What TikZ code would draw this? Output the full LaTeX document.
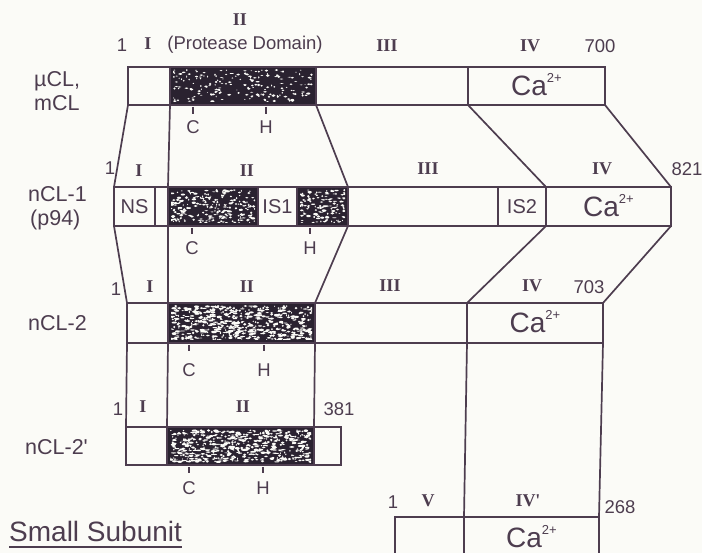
\documentclass[tikz,border=0pt]{standalone}
\usepackage{fontspec}
\setmainfont{Liberation Serif}
\setsansfont{Liberation Sans}
\newfontfamily\sansplain{Liberation Sans}
\newfontfamily\serifplain{Liberation Serif}
\definecolor{ink}{HTML}{4D3D4F}
\definecolor{dark}{HTML}{2A2230}
\definecolor{paper}{HTML}{FBFBF7}
\newcommand{\speckle}[7]{%
\begin{scope}
\clip (#1,#2) rectangle (#3,#4);
\pgfmathsetseed{#6}
\foreach \i in {1,...,#5}{
 \pgfmathsetmacro{\sx}{#1+rnd*(#3-#1)}
 \pgfmathsetmacro{\sy}{#2+rnd*(#4-#2)}
 \pgfmathsetmacro{\sa}{0.5+rnd*#7}
 \pgfmathsetmacro{\sb}{0.4+rnd*0.9}
 \fill[speck] (\sx,\sy) ellipse[x radius=\sa pt, y radius=\sb pt];
}
\end{scope}}
\newcommand{\caion}{Ca\smash{\raisebox{13pt}{\fontsize{13}{13}\selectfont 2+}}}
\begin{document}
\begin{tikzpicture}[x=1pt,y=-1pt,
 seg/.style={draw=ink, line width=1.9pt, inner sep=0pt, outer sep=0pt, anchor=north west, text=ink, font=\sffamily\fontsize{20}{20}\selectfont},
 dk/.style={seg, fill=dark},
 conn/.style={draw=ink, line width=1.7pt},
 tick/.style={draw=ink, line width=1.3pt},
 rn/.style={text=ink, inner sep=0pt, font=\bfseries\fontsize{18}{18}\selectfont},
 num/.style={text=ink, inner sep=0pt, font=\sffamily\fontsize{18.5}{18.5}\selectfont},
 lab/.style={text=ink, inner sep=0pt, anchor=west, font=\sffamily\fontsize{21.5}{22}\selectfont},
 ca/.style={font=\sffamily\fontsize{28}{28}\selectfont},
 speck/.style={fill=paper}
]
\fill[paper] (0,0) rectangle (702,553);
\useasboundingbox (0,0) rectangle (702,553);
\clip (0,0) rectangle (702,553);

% ---------- row 1: muCL, mCL ----------
\node[lab] (l1a) at (34,81) {µCL,};
\node[lab] (l1b) at (34,103) {mCL};
\node[seg, minimum width=42pt, minimum height=38pt] (r1a) at (128,67) {};
\node[dk, minimum width=146pt, minimum height=38pt] (r1b) at (170,67) {};
\node[seg, minimum width=152pt, minimum height=38pt] (r1c) at (316,67) {};
\node[seg, ca, minimum width=137pt, minimum height=38pt] (r1d) at (468,67) {\caion};
\speckle{173}{70}{313}{102}{200}{11}{1.6}
\node[rn] (n1II) at (240,20) {II};
\node[num] (n1one) at (122,45) {1};
\node[rn] (n1I) at (148,44) {I};
\node[num] (n1pd) at (245,45) {(Protease Domain)};
\node[rn] (n1III) at (387,46) {III};
\node[rn] (n1IV) at (530,46) {IV};
\node[num] (n1end) at (600,46) {700};
\node[num] (c1) at (193,127) {C};
\node[num] (h1) at (266,127) {H};
\draw[tick] (c1.north |- r1b.south) ++(0,2) -- ++(0,7);
\draw[tick] (h1.north |- r1b.south) ++(0,2) -- ++(0,7);

% ---------- row 2: nCL-1 ----------
\node[lab] (l2a) at (28,194) {nCL-1};
\node[lab] (l2b) at (30,220) {(p94)};
\node[seg, minimum width=41pt, minimum height=39pt] (r2ns) at (114,187) {NS};
\node[seg, minimum width=13pt, minimum height=39pt] (r2g) at (155,187) {};
\node[dk, minimum width=90pt, minimum height=39pt] (r2b) at (168,187) {};
\node[seg, minimum width=39pt, minimum height=39pt] (r2is1) at (258,187) {IS1};
\node[dk, minimum width=51pt, minimum height=39pt] (r2c) at (297,187) {};
\node[seg, minimum width=150pt, minimum height=39pt] (r2d) at (348,187) {};
\node[seg, minimum width=48pt, minimum height=39pt] (r2is2) at (498,187) {IS2};
\node[seg, ca, minimum width=125pt, minimum height=39pt] (r2e) at (546,187) {\caion};
\speckle{171}{190}{255}{223}{240}{23}{1.8}
\speckle{300}{190}{345}{223}{130}{37}{1.8}
\node[num] (n2one) at (110,168) {1};
\node[rn] (n2I) at (139,171) {I};
\node[rn] (n2II) at (247,171) {II};
\node[rn] (n2III) at (428,169) {III};
\node[rn] (n2IV) at (602,169) {IV};
\node[num] (n2end) at (687,169) {821};
\node[num] (c2) at (192,248) {C};
\node[num] (h2) at (310,248) {H};
\draw[tick] (c2.north |- r2b.south) ++(0,2) -- ++(0,6);
\draw[tick] (h2.north |- r2c.south) ++(0,2) -- ++(0,6);

% ---------- row 3: nCL-2 ----------
\node[lab] (l3) at (28,323) {nCL-2};
\node[seg, minimum width=41pt, minimum height=40pt] (r3a) at (127,303) {};
\node[dk, minimum width=147pt, minimum height=40pt] (r3b) at (168,303) {};
\node[seg, minimum width=152pt, minimum height=40pt] (r3c) at (315,303) {};
\node[seg, ca, minimum width=136pt, minimum height=40pt] (r3d) at (467,303) {\caion};
\speckle{171}{306}{312}{340}{560}{41}{2.2}
\node[num] (n3one) at (116,289) {1};
\node[rn] (n3I) at (150,287) {I};
\node[rn] (n3II) at (247,287) {II};
\node[rn] (n3III) at (390,286) {III};
\node[rn] (n3IV) at (532,286) {IV};
\node[num] (n3end) at (589,287) {703};
\node[num] (c3) at (189,370) {C};
\node[num] (h3) at (264,370) {H};
\draw[tick] (c3.north |- r3b.south) ++(0,2) -- ++(0,6);
\draw[tick] (h3.north |- r3b.south) ++(0,2) -- ++(0,6);

% ---------- row 4: nCL-2' ----------
\node[lab, font=\sansplain\fontsize{21.5}{22}\selectfont] (l4) at (25,447) {nCL-2'};
\node[seg, minimum width=41pt, minimum height=38pt] (r4a) at (126,427) {};
\node[dk, minimum width=147pt, minimum height=38pt] (r4b) at (167,427) {};
\node[seg, minimum width=27pt, minimum height=38pt] (r4c) at (314,427) {};
\speckle{170}{430}{311}{462}{560}{53}{2.2}
\node[num] (n4one) at (118,409) {1};
\node[rn] (n4I) at (143,407) {I};
\node[rn] (n4II) at (243,407) {II};
\node[num] (n4end) at (339,409) {381};
\node[num] (c4) at (189,488) {C};
\node[num] (h4) at (263,488) {H};
\draw[tick] (c4.north |- r4b.south) ++(0,2) -- ++(0,6);
\draw[tick] (h4.north |- r4b.south) ++(0,2) -- ++(0,6);

% ---------- small subunit ----------
\node[lab, font=\sffamily\fontsize{28}{28}\selectfont] (ss) at (9,531) {Small Subunit};
\draw[ink, line width=1.5pt] ([yshift=-6pt]ss.base west) -- ([yshift=-6pt]ss.base east);
\node[seg, minimum width=69pt, minimum height=42pt] (sV) at (395,517) {};
\node[seg, ca, minimum width=135pt, minimum height=42pt] (sIV) at (464,517) {\caion};
\node[num] (s1) at (393,502) {1};
\node[rn] (sVl) at (428,501) {V};
\node[rn, font=\serifplain\bfseries\fontsize{18}{18}\selectfont] (sIVl) at (528,501) {IV'};
\node[num] (send) at (620,507) {268};

% ---------- connectors ----------
\draw[conn] (r1a.south west) -- (r2ns.north west);
\draw[conn] (r1a.south east) -- (r2g.north east);
\draw[conn] (r1b.south east) -- (r2c.north east);
\draw[conn] (r1d.south west) -- (r2e.north west);
\draw[conn] (r1d.south east) -- (r2e.north east);

\draw[conn] (r2ns.south west) -- (r3a.north west);
\draw[conn] (r2g.south east) -- (r3a.north east);
\draw[conn] (r2c.south east) -- (r3b.north east);
\draw[conn] (r2e.south west) -- (r3d.north west);
\draw[conn] (r2e.south east) -- (r3d.north east);

\draw[conn] (r3a.south west) -- (r4a.north west);
\draw[conn] (r3a.south east) -- (r4a.north east);
\draw[conn] (r3b.south east) -- (r4b.north east);
\draw[conn] (r3d.south west) -- (sIV.north west);
\draw[conn] (r3d.south east) -- (sIV.north east);
\end{tikzpicture}
\end{document}
